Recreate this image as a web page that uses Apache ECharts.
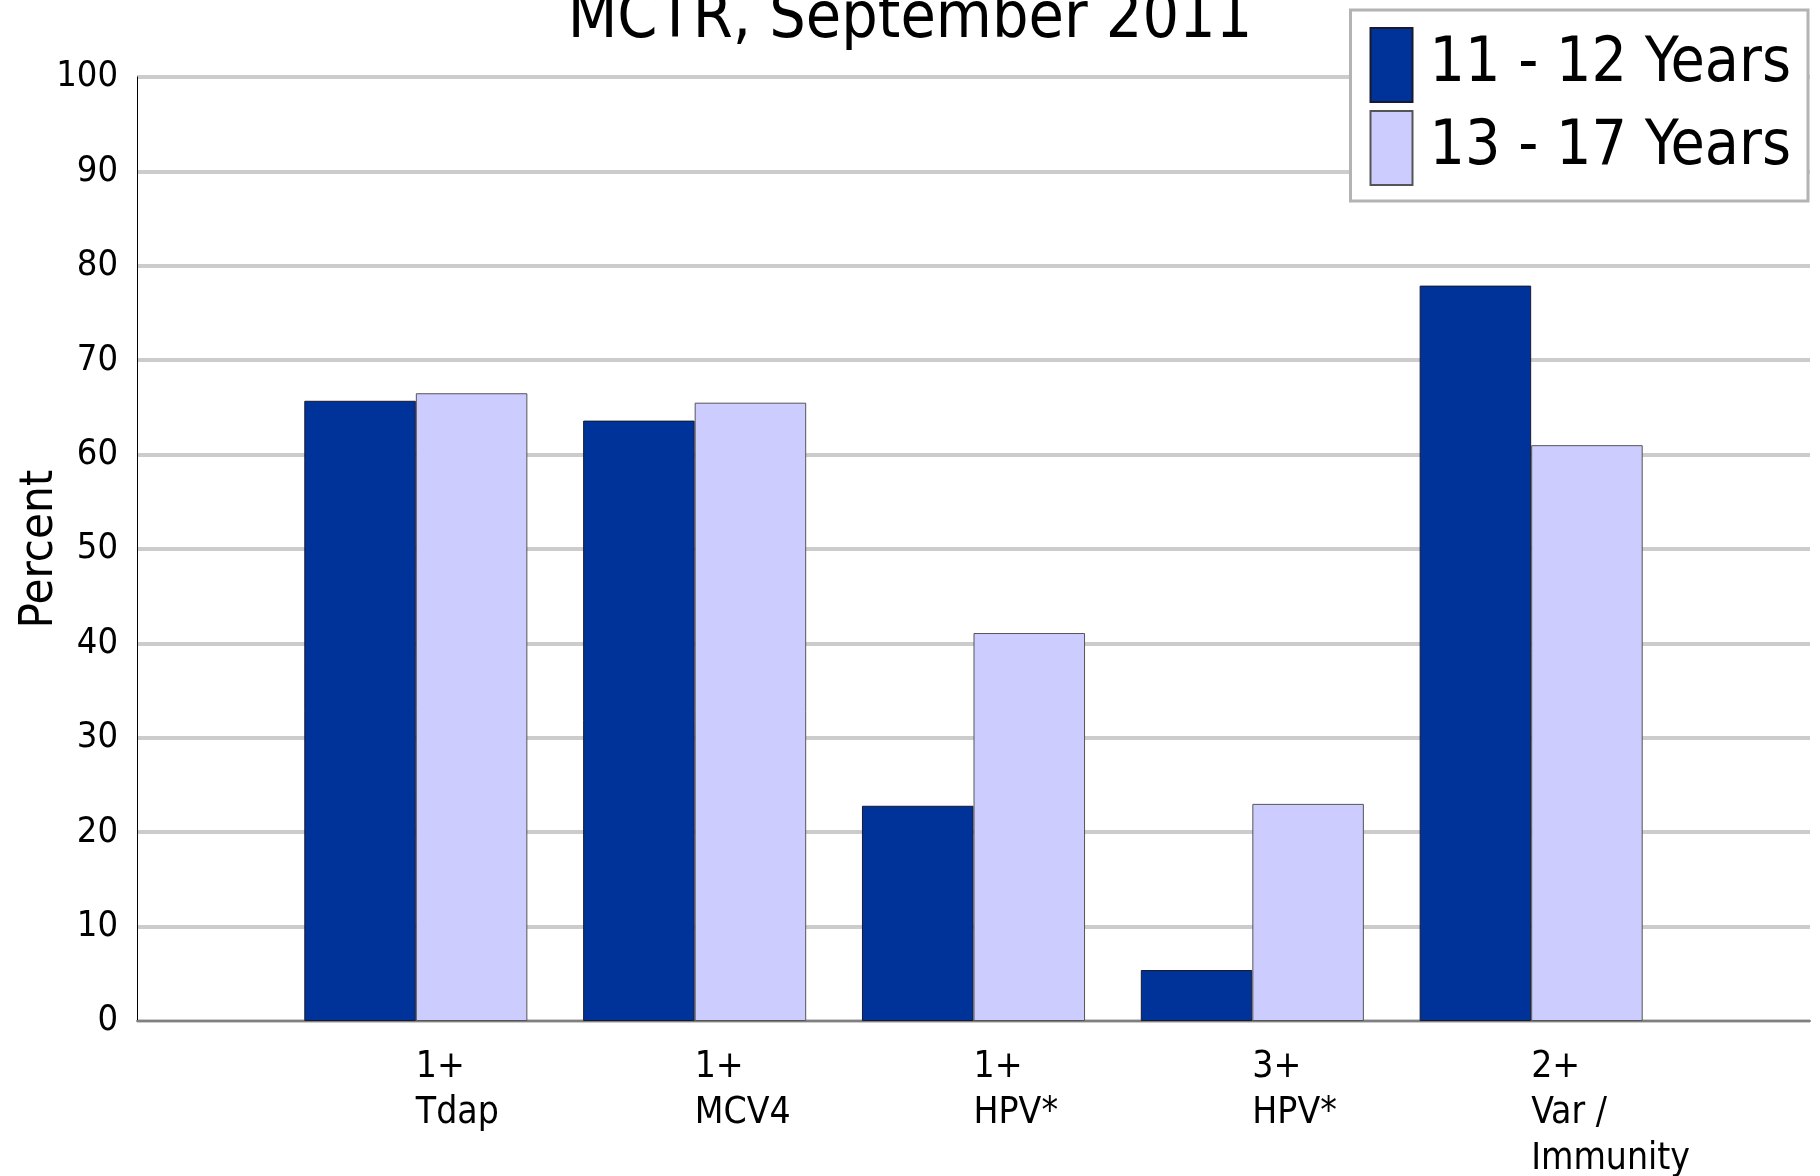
<!DOCTYPE html>
<html>
<head>
<meta charset="utf-8">
<title>MCTR, September 2011</title>
<script src="https://cdn.jsdelivr.net/npm/echarts@6/dist/echarts.min.js"></script>
<style>
    html, body { margin: 0; padding: 0; background: #fff; }
    #chart { width: 1820px; height: 1176px; }
</style>
</head>
<body>
<div id="chart"></div>
<script>
let categories = ['1+\nTdap', '1+\nMCV4', '1+\nHPV*', '3+\nHPV*', '2+\nVar /\nImmunity']
let seriesNames = ['11 - 12 Years', '13 - 17 Years']
let age11to12 = [65.7, 63.6, 22.8, 5.4, 77.9]
let age13to17 = [66.5, 65.5, 41.1, 23.0, 61.0]
let yTicks = [0, 100, 10]

let font = '"DejaVu Sans Condensed", "Liberation Sans", sans-serif'

// empty slots at both ends, bars sit on the ticks
let pad = arr => [null, ...arr, null]

let el = document.getElementById('chart')
let chart = echarts.init(el, null, { renderer: 'canvas' })

chart.setOption({
    animation: false,
    backgroundColor: '#fff',
    textStyle: { fontFamily: font },
    title: {
        text: 'MCTR, September 2011',
        left: 'center',
        top: -12,
        padding: 0,
        textStyle: { fontFamily: font, fontSize: 64, fontWeight: 'normal', color: '#000', lineHeight: 64 }
    },
    legend: {
        orient: 'vertical',
        right: 12,
        top: 10,
        padding: [17, 17, 15, 19],
        itemWidth: 42,
        itemHeight: 74,
        itemGap: 7,
        backgroundColor: '#fff',
        borderColor: '#b3b3b3',
        borderWidth: 3,
        icon: 'rect',
        textStyle: { fontFamily: font, fontSize: 62, color: '#000', padding: [0, 0, 0, 12] },
        data: seriesNames
    },
    grid: { left: 137, right: 10, top: 77, bottom: 155, outerBoundsMode: 'none', containLabel: false },
    xAxis: {
        type: 'category',
        boundaryGap: false,
        data: pad(categories).map(c => c || ''),
        axisLine: { lineStyle: { color: '#808080', width: 2 } },
        axisTick: { show: false },
        axisLabel: {
            interval: 0,
            align: 'left',
            margin: 23,
            fontFamily: font,
            fontSize: 37,
            lineHeight: 46,
            color: '#000'
        }
    },
    yAxis: {
        type: 'value',
        min: yTicks[0],
        max: yTicks[1],
        interval: yTicks[2],
        name: 'Percent',
        nameLocation: 'middle',
        nameGap: 74,
        nameMoveOverlap: false,
        nameTextStyle: { fontFamily: font, fontSize: 47, color: '#000' },
        axisLine: { show: true, lineStyle: { color: '#000', width: 1 } },
        axisTick: { show: false },
        axisLabel: { margin: 19, fontFamily: font, fontSize: 36, color: '#000' },
        splitLine: { lineStyle: { color: '#cccccc', width: 4 } }
    },
    series: [
        {
            name: seriesNames[0],
            type: 'bar',
            data: pad(age11to12),
            barWidth: '40%',
            barGap: '0%',
            itemStyle: { color: '#003399', borderColor: '#1a1a2e', borderWidth: 1 }
        },
        {
            name: seriesNames[1],
            type: 'bar',
            data: pad(age13to17),
            barWidth: '40%',
            barGap: '0%',
            itemStyle: { color: '#ccccff', borderColor: '#555555', borderWidth: 1 }
        }
    ]
})

window.addEventListener('resize', () => chart.resize(), false)
</script>
</body>
</html>
